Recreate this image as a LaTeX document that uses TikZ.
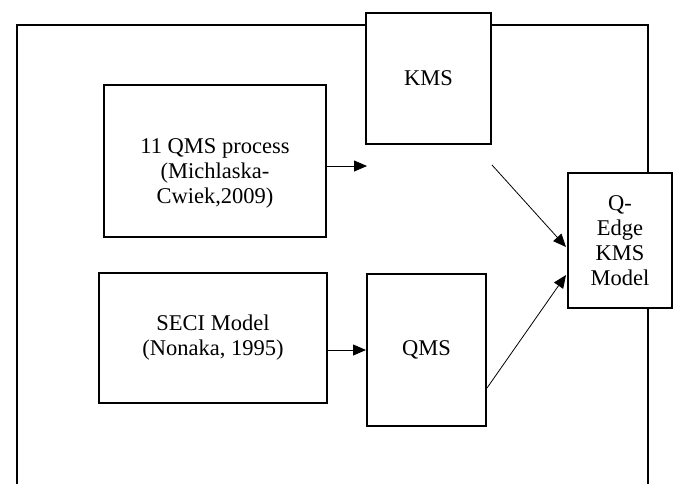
\documentclass[tikz,border=0pt]{standalone}
\usepackage{fontspec}
\setmainfont{Liberation Serif}
\usetikzlibrary{arrows.meta,calc}
\tikzset{
  box/.style={draw, line width=1.6pt, fill=white, inner sep=0pt, align=center,
    font=\fontsize{22.5}{25}\selectfont},
  txt/.style={inner sep=0pt, align=center, font=\fontsize{22.5}{25}\selectfont},
  frame/.style={line width=1.6pt},
  conn/.style={line width=0.8pt, -{Triangle[length=13pt,width=11pt]}},
}
\begin{document}
\begin{tikzpicture}[x=1pt,y=-1pt]
\useasboundingbox (0,0) rectangle (684,483);
% outer frame, open at the bottom
\draw[frame] (17,490) -- (17,25) -- (648,25) -- (648,490);
% boxes
\node[box, minimum width=125.4pt, minimum height=131.4pt] (kms) at (428.5,78.5) {KMS};
\node[box, minimum width=222.4pt, minimum height=152.4pt] (p11) at (215,161) {};
\node[txt] (p11t) at (215,173) {11 QMS process\\(Michlaska-\\Cwiek,2009)};
\node[box, minimum width=228.4pt, minimum height=130.4pt] (seci) at (213,338) {SECI Model\\(Nonaka, 1995)};
\node[box, minimum width=119.4pt, minimum height=152.4pt] (qms) at (426.5,350) {QMS};
\node[box, minimum width=104.4pt, minimum height=135.4pt] (qe) at (620,240.5) {Q-\\Edge\\KMS\\Model};
% free connector ends
\coordinate (a1end) at (367,166);
\coordinate (d1start) at (492,165);
\coordinate (d1end) at (566,247);
\coordinate (d2start) at ($(qms.south east)+(0,-39)$);
\coordinate (d2end) at (566,275);
% connectors
\draw[conn] (p11.east |- a1end) -- (a1end);
\draw[conn] (seci.east |- qms.center) -- (qms.west);
\draw[conn] (d1start) -- (d1end);
\draw[conn] (d2start) -- (d2end);
\end{tikzpicture}
\end{document}
